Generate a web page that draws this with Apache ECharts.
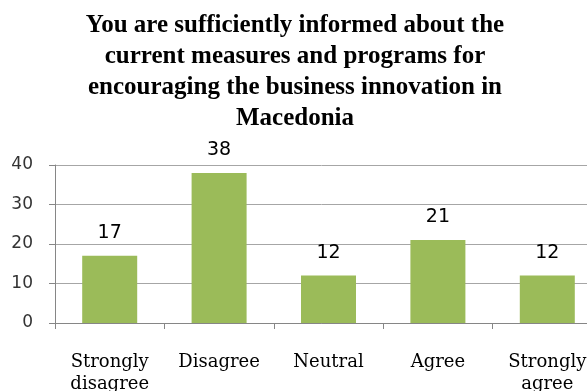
<!DOCTYPE html>
<html><head><meta charset="utf-8">
<script src="https://cdn.jsdelivr.net/npm/echarts@6/dist/echarts.min.js"></script>
<style>html,body{margin:0;padding:0;background:#fff}#c{width:587px;height:391px}</style>
</head><body><div id="c"></div>
<script>
const titleText = "You are sufficiently informed about the\ncurrent measures and programs for\nencouraging the business innovation in\nMacedonia";
const categories = ["Strongly\ndisagree", "Disagree", "Neutral", "Agree", "Strongly\nagree"];
const values = [17, 38, 12, 21, 12];
const yTicks = [0, 10, 20, 30, 40];

const chart = echarts.init(document.getElementById('c'), null, {renderer: 'canvas'});
chart.setOption({
  animation: false,
  backgroundColor: '#fff',
  title: {
    text: titleText,
    left: 290, top: 5, textAlign: 'center',
    textStyle: {fontFamily: 'Liberation Serif', fontWeight: 'bold', fontSize: 25, lineHeight: 31, color: '#000'}
  },
  grid: {left: 55, top: 165, width: 547, height: 158, containLabel: false, outerBoundsMode: 'none'},
  xAxis: {
    type: 'category', data: categories,
    axisLine: {lineStyle: {color: '#868686'}},
    axisTick: {show: true, length: 6, lineStyle: {color: '#868686'}},
    axisLabel: {fontFamily: 'DejaVu Serif', fontSize: 18, lineHeight: 22, color: '#000', margin: 28, interval: 0}
  },
  yAxis: {
    type: 'value', min: yTicks[0], max: yTicks[yTicks.length-1], interval: 10,
    axisLine: {show: true, lineStyle: {color: '#868686'}},
    axisTick: {show: true, length: 6, lineStyle: {color: '#868686'}},
    splitLine: {lineStyle: {color: '#a6a6a6'}},
    axisLabel: {fontFamily: 'DejaVu Sans', fontSize: 17, color: '#333', margin: 22}
  },
  series: [{
    type: 'bar', data: values, barWidth: 55,
    itemStyle: {color: '#9bbb59'},
    label: {show: true, position: 'top', distance: 13, fontFamily: 'DejaVu Sans', fontSize: 19, color: '#000'}
  }]
});
</script></body></html>
